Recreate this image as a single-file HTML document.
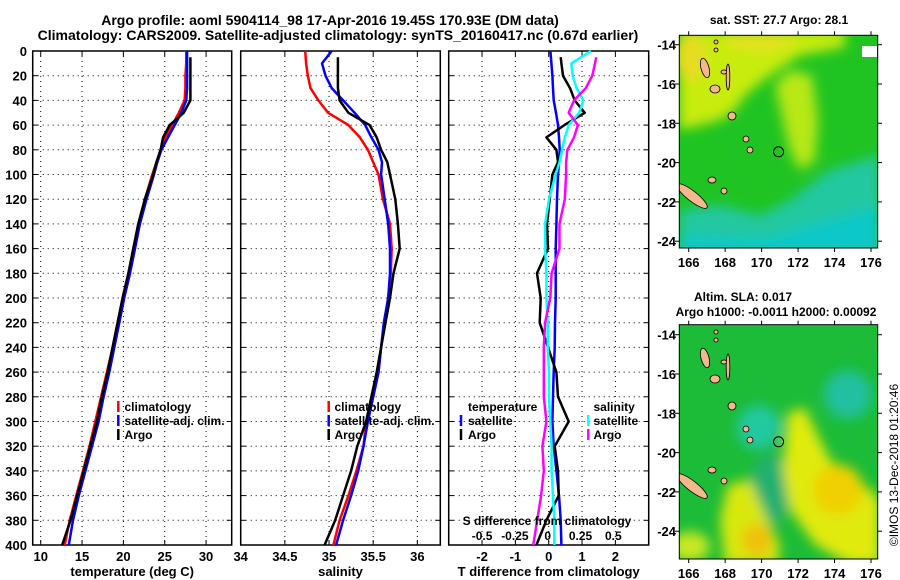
<!DOCTYPE html>
<html><head><meta charset="utf-8"><style>
html,body{margin:0;padding:0;background:#fff;width:900px;height:580px;overflow:hidden}
svg{display:block;font-family:"Liberation Sans",Arial,sans-serif;font-weight:bold}
</style></head><body>
<svg id="chart" width="900" height="580" viewBox="0 0 900 580" xmlns="http://www.w3.org/2000/svg">
<defs>
<filter id="blur" x="-10%" y="-10%" width="120%" height="120%"><feGaussianBlur stdDeviation="6"/></filter>
<clipPath id="m1c"><rect x="679.3" y="35.3" width="198.4" height="212.7"/></clipPath>
<clipPath id="m2c"><rect x="679.3" y="324.7" width="198.4" height="234.3"/></clipPath>
</defs>
<g>
<text x="330" y="25" font-size="14" text-anchor="middle">Argo profile: aoml 5904114_98 17-Apr-2016 19.45S 170.93E (DM data)</text>
<text x="338" y="40" font-size="14" text-anchor="middle">Climatology: CARS2009. Satellite-adjusted climatology: synTS_20160417.nc (0.67d earlier)</text>
</g>
<g id="panels"></g>
<g id="maps"></g>
<text transform="translate(898,465) rotate(-90)" font-size="12" font-weight="normal" text-anchor="middle">©IMOS 13-Dec-2018 01:20:46</text>
</svg>
<script>
const depths=[0,10,20,30,40,50,60,70,80,90,100,120,140,160,180,200,220,240,260,280,300,320,340,360,380,400];
const argoDepths=[5,10,20,30,40,50,60,70,80,90,100,120,140,160,180,200,220,240,260,280,300,320,340,360,380,400];
const tClim=[27.6,27.6,27.5,27.5,27.4,26.7,25.9,25.1,24.5,24.0,23.5,22.6,21.8,21.2,20.6,19.9,19.3,18.7,18.0,17.3,16.6,15.9,15.1,14.3,13.5,12.9];
const tSat=[27.7,27.7,27.7,27.7,27.6,27.0,26.2,25.4,24.6,24.1,23.7,22.8,22.0,21.4,20.8,20.1,19.5,18.9,18.3,17.6,17.0,16.2,15.4,14.6,13.9,13.4];
const tArgo=[28.1,28.1,28.1,28.1,28.1,27.3,25.6,24.8,24.5,24.0,23.6,22.6,21.8,21.2,20.6,19.9,19.3,18.7,18.1,17.4,16.8,16.0,15.2,14.4,13.6,12.6];
const sClim=[34.73,34.74,34.76,34.79,34.88,34.99,35.22,35.35,35.44,35.50,35.56,35.61,35.69,35.71,35.70,35.67,35.63,35.59,35.56,35.50,35.42,35.39,35.31,35.22,35.12,35.05];
const sSat=[35.03,34.92,34.96,35.03,35.16,35.29,35.41,35.48,35.56,35.60,35.59,35.63,35.67,35.69,35.69,35.67,35.62,35.59,35.56,35.50,35.44,35.39,35.33,35.25,35.16,35.08];
const sArgo=[35.10,35.10,35.10,35.10,35.12,35.22,35.46,35.54,35.59,35.66,35.69,35.75,35.78,35.80,35.73,35.69,35.64,35.59,35.54,35.48,35.42,35.32,35.25,35.16,35.07,34.95];
const dTSat=[0.05,0.08,0.11,0.13,0.15,0.22,0.28,0.31,0.33,0.31,0.28,0.25,0.23,0.21,0.21,0.21,0.19,0.18,0.15,0.13,0.11,0.15,0.23,0.31,0.36,0.38];
const dTArgo=[0.36,0.38,0.43,0.64,0.78,1.08,0.47,-0.07,0.23,0.28,0.11,0.03,-0.05,-0.02,-0.35,-0.24,-0.27,-0.02,0.23,0.28,0.6,0.18,0.28,0.3,-0.07,-0.37];
const dSSat=[0.33,0.18,0.19,0.22,0.27,0.24,0.16,0.13,0.11,0.09,0.06,0.01,-0.02,-0.02,-0.01,-0.01,0.0,0.0,0.01,0.01,0.02,0.03,0.03,0.04,0.05,0.05];
const dSArgo=[0.37,0.36,0.34,0.29,0.2,0.16,0.23,0.2,0.15,0.14,0.14,0.13,0.09,0.09,0.03,0.02,-0.02,-0.03,-0.03,-0.03,-0.01,-0.04,-0.03,-0.05,-0.08,-0.11];
const depthTicks=[0,20,40,60,80,100,120,140,160,180,200,220,240,260,280,300,320,340,360,380,400];
const tTicks=[10,15,20,25,30];
const sTicks=[34,34.5,35,35.5,36];
const dTTicks=[-2,-1,0,1,2];
const dSTicks=[-0.5,-0.25,0,0.25,0.5];
const lonTicks=[166,168,170,172,174,176];
const latTicks=[-14,-16,-18,-20,-22,-24];

const NS='http://www.w3.org/2000/svg';
function mk(tag,attrs,parent,txt){const e=document.createElementNS(NS,tag);for(const k in attrs)e.setAttribute(k,attrs[k]);if(txt!==undefined)e.textContent=txt;parent.appendChild(e);return e;}
const P=document.getElementById('panels');
const yD=d=>51+d*1.235;
const Y0=51,Y1=545;
const panels=[
 {x0:32.7,x1:231.7,lo:9.03,hi:33.1,ticks:tTicks,label:'temperature (deg C)',name:'temperature-panel'},
 {x0:240.7,x1:440.3,lo:34.0,hi:36.26,ticks:sTicks,label:'salinity',name:'salinity-panel'},
 {x0:448.7,x1:648.7,lo:-3.0,hi:3.0,ticks:dTTicks,label:'T difference from climatology',name:'difference-panel'}];
function line(arrX,arrD,fx,color,name,g){
 const pts=arrX.map((v,i)=>fx(v).toFixed(1)+','+yD(arrD[i]).toFixed(1)).join(' ');
 const pl=mk('polyline',{points:pts,fill:'none',stroke:color,'stroke-width':2.5,'stroke-linejoin':'round'},g);
 
 
}
panels.forEach((p,pi)=>{
 const g=mk('g',{},P);
 
 
 const fx=v=>p.x0+(v-p.lo)/(p.hi-p.lo)*(p.x1-p.x0);
 p.fx=fx;
 depthTicks.forEach(d=>{
  mk('line',{x1:p.x0,x2:p.x1,y1:yD(d),y2:yD(d),stroke:'#000','stroke-width':1,'stroke-dasharray':'1,4'},g);
  mk('line',{x1:p.x0,x2:p.x0+5,y1:yD(d),y2:yD(d),stroke:'#000'},g);
  mk('line',{x1:p.x1,x2:p.x1-5,y1:yD(d),y2:yD(d),stroke:'#000'},g);
  if(pi===0){const t=mk('text',{x:27,y:yD(d)+5,'font-size':13,'text-anchor':'end'},g,String(d));}
 });
 p.ticks.forEach(v=>{
  const x=fx(v);
  mk('line',{x1:x,x2:x,y1:Y0,y2:Y1,stroke:'#000','stroke-dasharray':'1,4'},g);
  mk('line',{x1:x,x2:x,y1:Y1,y2:Y1-5,stroke:'#000'},g);
  mk('line',{x1:x,x2:x,y1:Y0,y2:Y0+5,stroke:'#000'},g);
  const t=mk('text',{x:x,y:561,'font-size':13,'text-anchor':'middle'},g,String(v));
  
  
 });
 mk('rect',{x:p.x0,y:Y0,width:p.x1-p.x0,height:Y1-Y0,fill:'none',stroke:'#000','stroke-width':1.5},g);
 const xl=mk('text',{x:(p.x0+p.x1)/2,y:576,'font-size':13,'text-anchor':'middle'},g,p.label);
 
 
});
const g1=P.children[0],g2=P.children[1],g3=P.children[2];
line(tClim,depths,panels[0].fx,'#f00','temp-climatology-line',g1);
line(tSat,depths,panels[0].fx,'#00f','temp-satellite-line',g1);
line(tArgo,argoDepths,panels[0].fx,'#000','temp-argo-line',g1);
line(sClim,depths,panels[1].fx,'#f00','sal-climatology-line',g2);
line(sSat,depths,panels[1].fx,'#00f','sal-satellite-line',g2);
line(sArgo,argoDepths,panels[1].fx,'#000','sal-argo-line',g2);
const fxS=v=>547.7+v*131.3;
line(dTSat,depths,panels[2].fx,'#00f','dT-satellite-line',g3);
line(dTArgo,argoDepths,panels[2].fx,'#000','dT-argo-line',g3);
line(dSSat,depths,fxS,'#0ff','dS-satellite-line',g3);
line(dSArgo,argoDepths,fxS,'#f0f','dS-argo-line',g3);
dSTicks.forEach(v=>{const t=mk('text',{x:fxS(v),y:540,'font-size':12,'text-anchor':'middle'},g3,String(v));});
{const t=mk('text',{x:547,y:525,'font-size':12,'text-anchor':'middle'},g3,'S difference from climatology');}
function legend(g,x,tx,y,items){items.forEach((it,i)=>{
 const e=mk('g',{},g);
 
 
 if(it[1])mk('line',{x1:x,x2:x,y1:y+i*14-10,y2:y+i*14+1,stroke:it[1],'stroke-width':2.5},e);
 mk('text',{x:tx,y:y+i*14,'font-size':12},e,it[0]);});}
legend(g1,118.3,124.5,411,[['climatology','#f00'],['satellite-adj. clim.','#00f'],['Argo','#000']]);
legend(g2,328.7,334.5,411,[['climatology','#f00'],['satellite-adj. clim.','#00f'],['Argo','#000']]);
legend(g3,461,468,411,[['temperature',null],['satellite','#00f'],['Argo','#000']]);
legend(g3,588,593.5,411,[['salinity',null]]);
legend(g3,588.3,593.5,425,[['satellite','#0ff'],['Argo','#f0f']]);

// maps
const M=document.getElementById('maps');
const fLon=l=>688.7+(l-166)*18.23;
function map(top,lat14,bottom,clip,titles,shapes,base,name){
 const g=mk('g',{},M);
 
 
 const fLat=la=>lat14+(-14-la)*19.65;
 const c=mk('g',{'clip-path':'url(#'+clip+')'},g);
 mk('rect',{x:679,y:top,width:200,height:bottom-top,fill:base},c);
 const bl=mk('g',{filter:'url(#blur)'},c);
 shapes.forEach(s=>{
  if(s[0]==='p')mk('polygon',{points:s[1].map(q=>q[0]+','+(q[1]+top)).join(' '),fill:s[2]},bl);
  else mk('ellipse',{cx:s[1],cy:s[2]+top,rx:s[3],ry:s[4],fill:s[5]},bl);
 });
 const dy=lat14-44.7;
 [[705,68,4,10,-15],[715,89,5,4,0],[724,72,3,2,0],[728,77,1.8,13,0],[732,116,4,4,0],[746,139,3,3,0],[750,150,3,3,0],[712,180,4,3,0],[724,191,3,3,0],[692,196,19,5,38],[716,42,2,2,0],[716,50,2,2,0]].forEach(s=>{
  const el=mk('ellipse',{cx:s[0],cy:s[1]+dy,rx:s[2],ry:s[3],fill:'#f5b88a',stroke:'#000','stroke-width':0.8,transform:'rotate('+s[4]+' '+s[0]+' '+(s[1]+dy)+')'},c);
  
  
 });
 const mk1=mk('circle',{cx:fLon(170.93),cy:fLat(-19.45),r:5,fill:'none',stroke:'#000','stroke-width':1},g);
 
 
 mk('rect',{x:679.3,y:top,width:198.4,height:bottom-top,fill:'none',stroke:'#000','stroke-width':1},g);
 latTicks.forEach(la=>{const y=fLat(la);mk('line',{x1:877.7,x2:882,y1:y,y2:y,stroke:'#000'},g);mk('line',{x1:679.3,x2:675,y1:y,y2:y,stroke:'#000'},g);
  const t=mk('text',{x:676,y:y+5,'font-size':13,'text-anchor':'end'},g,String(la));});
 lonTicks.forEach(lo=>{const x=fLon(lo);mk('line',{x1:x,x2:x,y1:bottom,y2:bottom+4,stroke:'#000'},g);mk('line',{x1:x,x2:x,y1:top,y2:top-4,stroke:'#000'},g);
  const t=mk('text',{x:x,y:bottom+19,'font-size':13,'text-anchor':'middle'},g,String(lo));});
 titles.forEach(tt=>{const t=mk('text',{x:tt[1],y:tt[2],'font-size':12,'text-anchor':'middle'},g,tt[0]);});
 return g;
}
const g1m=map(35.3,44.7,248,'m1c',[['sat. SST: 27.7 Argo: 28.1',779,24]],[
 ['p',[[679,-5],[845,-5],[845,12],[800,20],[770,40],[745,60],[735,75],[720,85],[679,95]],'#c8ec10'],
 ['e',690,22,16,24,'#e8dc20'],['e',760,6,35,8,'#e8e020'],
 ['p',[[775,50],[790,35],[812,40],[818,85],[815,125],[800,135],[790,115],[783,85]],'#b8e818'],
 ['p',[[679,175],[720,170],[760,180],[790,165],[830,135],[880,120],[880,220],[679,220]],'#20c8a0'],
 ['p',[[679,200],[760,205],[880,170],[880,220],[679,220]],'#10c8c8']
],'#20c422','sst-map');
mk('rect',{x:862,y:46,width:15,height:11,fill:'#fff'},g1m);
map(324.7,334.7,559,'m2c',[['Altim. SLA: 0.017',743,301],['Argo h1000: -0.0011 h2000: 0.00092',776,316]],[
 ['e',759,103,22,22,'#20c8a0'],['e',848,70,24,24,'#20c0a0'],['e',770,165,20,35,'#20b070'],
 ['p',[[788,88],[805,83],[815,105],[830,135],[870,165],[880,175],[880,240],[850,240],[815,220],[790,185],[783,145]],'#e0ea10'],
 ['e',838,165,25,25,'#f0d000'],
 ['p',[[728,160],[750,155],[765,190],[780,220],[778,240],[725,240],[720,195]],'#d8e810'],
 ['e',757,215,15,16,'#f0c010'],['e',690,222,20,15,'#c8e820']
],'#1cbc38','sla-map');
</script>
</body></html>
